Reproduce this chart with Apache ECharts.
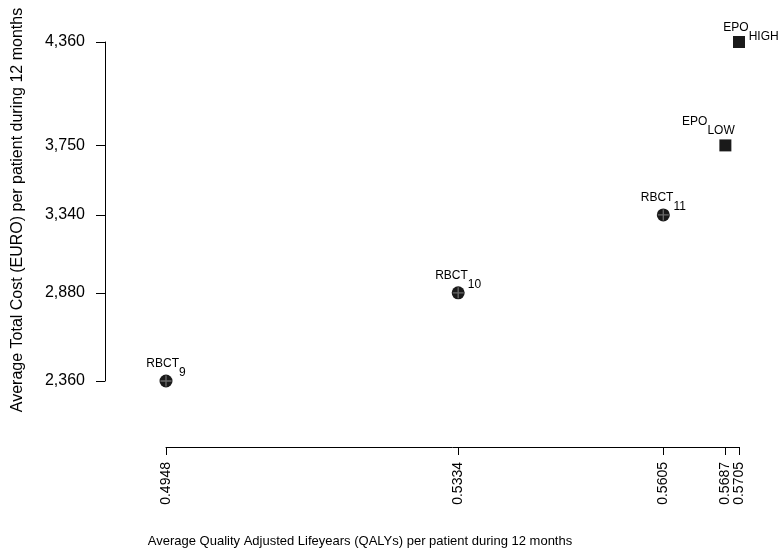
<!DOCTYPE html>
<html><head><meta charset="utf-8">
<script src="https://cdn.jsdelivr.net/npm/echarts@6/dist/echarts.min.js"></script>
<style>html,body{margin:0;padding:0;background:#fff}#c{width:782px;height:549px}</style>
</head><body><div id="c"></div>
<script>
const labelMain = ['RBCT', 'RBCT', 'RBCT', 'EPO', 'EPO'];
const labelSub = ['9', '10', '11', 'LOW', 'HIGH'];
const qaly = [0.4948, 0.5334, 0.5605, 0.5687, 0.5705];
const cost = [2360, 2880, 3340, 3750, 4360];
const markerType = ['circle', 'circle', 'circle', 'square', 'square'];
const xTicks = [0.4948, 0.5334, 0.5605, 0.5687];
const xTicksEnd = [0.5705];
const yTicks = [2360, 2880, 3340, 3750, 4360];
const xTitle = 'Average Quality Adjusted Lifeyears (QALYs) per patient during 12 months';
const yTitle = 'Average Total Cost (EURO) per patient during 12 months';

const FONT = '"Liberation Sans", Arial, Helvetica, sans-serif';
const labelOffsets = [[0, 4], [0, 4], [0, 4], [-17, -3], [12, 7]];

const circleData = [], squareData = [];
qaly.forEach((x, i) => {
  const item = {
    value: [x, cost[i]],
    label: {
      show: true,
      position: 'top',
      distance: 0,
      offset: labelOffsets[i],
      formatter: '{m|' + labelMain[i] + '}{s|' + labelSub[i] + '}'
    }
  };
  if (markerType[i] === 'circle') circleData.push(item); else squareData.push(item);
});
const crossData = circleData.map(d => ({ value: d.value }));

const rich = {
  m: { fontSize: 12, fontFamily: FONT, color: '#000', padding: [0, 0, 9, 0] },
  s: { fontSize: 12, fontFamily: FONT, color: '#000', padding: [9, 0, 0, 0] }
};

function xAxisDef(ticks, showLine) {
  return {
    type: 'value', min: qaly[0], max: qaly[qaly.length - 1], offset: 66, position: 'bottom',
    splitLine: { show: false },
    axisLine: { show: showLine, onZero: false, lineStyle: { color: '#000', width: 1 } },
    axisTick: { show: true, customValues: ticks, length: 8, lineStyle: { color: '#000' } },
    axisLabel: {
      customValues: ticks, rotate: 90, margin: 15, fontSize: 14, fontFamily: FONT, color: '#000',
      hideOverlap: false,
      formatter: v => v.toFixed(4)
    }
  };
}

const chart = echarts.init(document.getElementById('c'), null, { renderer: 'canvas' });
chart.setOption({
  animation: false,
  backgroundColor: '#fff',
  grid: { left: 166, right: 43, top: 42, bottom: 168, containLabel: false },
  xAxis: [xAxisDef(xTicks, true), xAxisDef(xTicksEnd, false)],
  yAxis: {
    type: 'value', min: 2360, max: 4360, offset: 61,
    splitLine: { show: false },
    axisLine: { show: true, lineStyle: { color: '#000', width: 1 } },
    axisTick: { show: true, customValues: yTicks, length: 9, lineStyle: { color: '#000' } },
    axisLabel: {
      customValues: yTicks, margin: 20, fontSize: 16, fontFamily: FONT, color: '#000',
      hideOverlap: false,
      formatter: v => v.toLocaleString('en-US')
    }
  },
  graphic: [
    { type: 'text', x: 360, y: 541, style: { text: xTitle, font: '13px ' + FONT, fill: '#000', textAlign: 'center', textVerticalAlign: 'middle' } },
    { type: 'text', x: 18, y: 210, rotation: Math.PI / 2, style: { text: yTitle, font: '16px ' + FONT, fill: '#000', textAlign: 'center', textVerticalAlign: 'middle' } }
  ],
  series: [
    {
      type: 'scatter', symbol: 'circle', symbolSize: 13, xAxisIndex: 0,
      itemStyle: { color: '#1a1a1a', opacity: 1 },
      label: { rich: rich },
      data: circleData
    },
    {
      type: 'scatter', symbol: 'path://M4.4,0h1.2v10h-1.2z M0,4.4h10v1.2h-10z', symbolSize: 11, xAxisIndex: 0,
      itemStyle: { color: '#6a6a6a', opacity: 1 }, silent: true, z: 3,
      data: crossData
    },
    {
      type: 'scatter', symbol: 'rect', symbolSize: 12, xAxisIndex: 0,
      itemStyle: { color: '#1a1a1a', opacity: 1 },
      label: { rich: rich },
      data: squareData
    }
  ]
});
</script></body></html>
